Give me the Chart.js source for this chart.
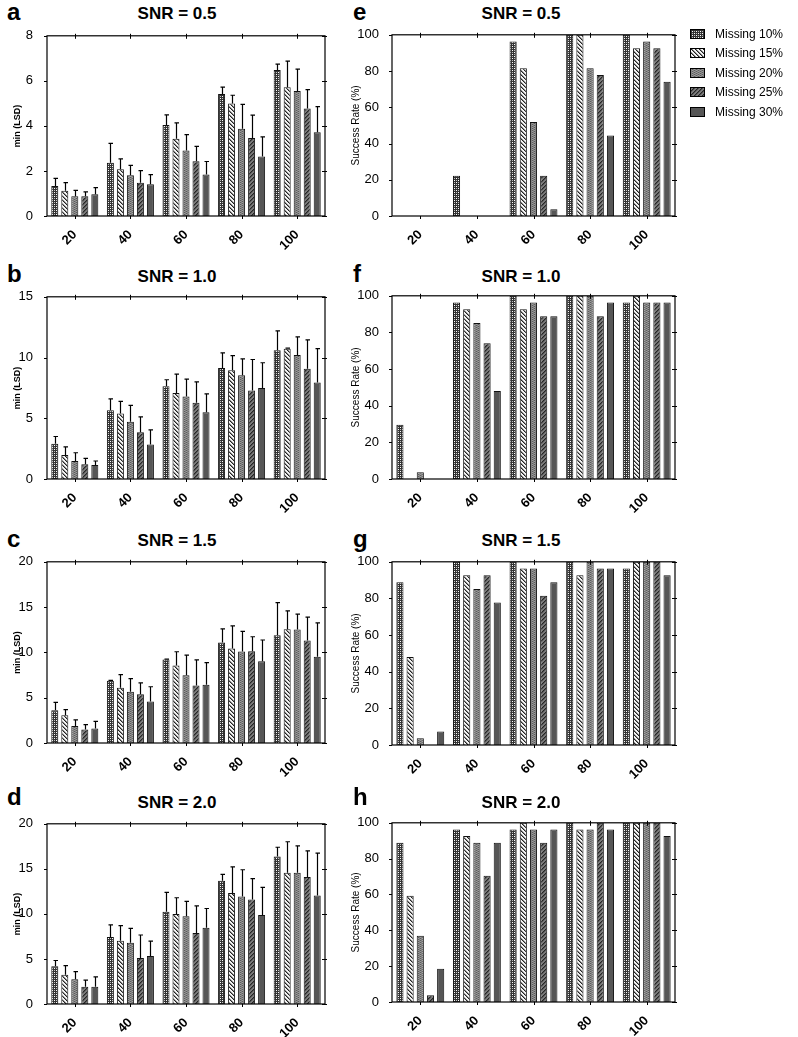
<!DOCTYPE html>
<html>
<head>
<meta charset="utf-8">
<script src="https://cdn.jsdelivr.net/npm/chart.js@4.4.1/dist/chart.umd.min.js"></script>
<style>
body { margin: 0; background: #fff; overflow: hidden; }
#page { position: relative; width: 798px; height: 1037px; overflow: hidden; font-family: "Liberation Sans", Arial, sans-serif; color: #000; }
#page > canvas { position: absolute; }
.letter { position: absolute; font-weight: bold; font-size: 24px; line-height: 24px; }
.title { position: absolute; width: 200px; text-align: center; font-weight: bold; font-size: 17px; line-height: 17px; }
#legend { position: absolute; left: 690px; top: 24px; font-size: 12px; }
#legend div { height: 19.5px; display: flex; align-items: center; }
#legend canvas { margin-right: 10px; }
</style>
</head>
<body>
<div id="page"><div id="legend"></div></div>
<script>
//////////////////////////////////////////////// Data
const categories = ['20', '40', '60', '80', '100'];
const seriesNames = ['Missing 10%', 'Missing 15%', 'Missing 20%', 'Missing 25%', 'Missing 30%'];

// min(LSD) means, one row per missing level
const lsdSnr05 = [
    [1.33, 2.36, 4.04, 5.42, 6.48],
    [1.12, 2.07, 3.43, 5.00, 5.72],
    [0.88, 1.81, 2.91, 3.87, 5.55],
    [0.88, 1.48, 2.43, 3.46, 4.77],
    [0.97, 1.41, 1.84, 2.64, 3.72]
];
const sdSnr05 = [
    [0.34, 0.86, 0.45, 0.30, 0.26],
    [0.36, 0.47, 0.70, 0.36, 1.16],
    [0.26, 0.44, 0.70, 1.09, 0.97],
    [0.19, 0.53, 0.66, 1.02, 0.84],
    [0.29, 0.43, 0.58, 0.87, 1.14]
];
const lsdSnr10 = [
    [2.91, 5.66, 7.63, 9.14, 10.60],
    [1.97, 5.39, 7.09, 8.95, 10.73],
    [1.48, 4.72, 6.79, 8.54, 10.20],
    [1.21, 3.85, 6.28, 7.28, 9.08],
    [1.16, 2.83, 5.50, 7.49, 7.95]
];
const sdSnr10 = [
    [0.59, 0.94, 0.54, 1.24, 1.60],
    [0.67, 1.00, 1.54, 1.21, 0.05],
    [0.68, 1.34, 1.43, 1.35, 1.50],
    [0.49, 1.27, 1.72, 2.56, 2.37],
    [0.32, 1.21, 1.50, 2.08, 2.78]
];
const lsdSnr15 = [
    [3.61, 6.86, 9.21, 11.08, 11.88],
    [3.07, 6.10, 8.56, 10.43, 12.56],
    [1.88, 5.67, 7.47, 10.10, 12.53],
    [1.48, 5.38, 6.35, 10.14, 11.30],
    [1.59, 4.58, 6.43, 9.03, 9.53]
];
const sdSnr15 = [
    [0.87, 0.05, 0.05, 1.52, 3.61],
    [0.61, 1.45, 1.51, 2.49, 2.02],
    [0.68, 1.44, 2.24, 2.21, 1.69],
    [0.54, 1.26, 2.82, 1.59, 2.60],
    [0.79, 1.63, 2.45, 2.34, 3.72]
];
const lsdSnr20 = [
    [4.20, 7.44, 10.24, 13.67, 16.38],
    [3.25, 7.02, 9.98, 12.33, 14.57],
    [2.75, 6.80, 9.73, 11.93, 14.57],
    [1.92, 5.10, 7.88, 11.61, 14.10],
    [1.92, 5.32, 8.46, 9.87, 12.04]
];
const sdSnr20 = [
    [0.63, 1.35, 2.16, 0.72, 1.02],
    [1.02, 1.68, 1.81, 2.90, 3.44],
    [0.85, 1.59, 1.66, 2.97, 2.97],
    [0.72, 2.56, 3.01, 2.31, 2.90],
    [1.08, 1.66, 2.14, 3.08, 4.70]
];

// success rate (%)
const rateSnr05 = [
    [0, 22.2, 96.3, 100, 100],
    [0, 0, 81.5, 100, 92.6],
    [0, 0, 51.9, 81.5, 96.3],
    [0, 0, 22.2, 77.8, 92.6],
    [0, 0, 3.7, 44.4, 74.1]
];
const rateSnr10 = [
    [29.6, 96.3, 100, 100, 96.3],
    [0, 92.6, 92.6, 100, 100],
    [3.7, 85.2, 96.3, 100, 96.3],
    [0, 74.1, 88.9, 88.9, 96.3],
    [0, 48.1, 88.9, 96.3, 96.3]
];
const rateSnr15 = [
    [88.9, 100, 100, 100, 96.3],
    [48.1, 92.6, 96.3, 92.6, 100],
    [3.7, 85.2, 96.3, 100, 100],
    [0, 92.6, 81.5, 96.3, 100],
    [7.4, 77.8, 88.9, 96.3, 92.6]
];
const rateSnr20 = [
    [88.9, 96.3, 96.3, 100, 100],
    [59.3, 92.6, 100, 96.3, 100],
    [37.0, 88.9, 96.3, 96.3, 100],
    [3.7, 70.4, 88.9, 100, 100],
    [18.5, 88.9, 96.3, 96.3, 92.6]
];

//////////////////////////////////////////////// Patterns
function tile(bg, dots) {
    const c = document.createElement('canvas');
    c.width = 4; c.height = 4;
    const g = c.getContext('2d');
    g.fillStyle = bg;
    g.fillRect(0, 0, 4, 4);
    for (let x = 0; x < 4; x++) {
        for (let y = 0; y < 4; y++) {
            const col = dots(x, y);
            if (col) { g.fillStyle = col; g.fillRect(x, y, 1, 1); }
        }
    }
    return g.createPattern(c, 'repeat');
}

const patterns = [
    tile('#333333', (x, y) => (x % 2 === 0 && y % 2 === 0) ? ((x + y) % 4 === 0 ? '#ffffff' : '#bdbdbd') : null),
    tile('#f4f4f4', (x, y) => { const d = ((x - y) % 4 + 4) % 4; return d === 0 ? '#222' : d === 1 ? '#8a8a8a' : null; }),
    tile('#828282', (x, y) => ((x + 2 * y) % 4 === 0) ? '#5c5c5c' : ((x + 2 * y) % 4 === 2 ? '#9c9c9c' : null)),
    tile('#7a7a7a', (x, y) => { const d = (x + y) % 4; return d === 0 ? '#262626' : d === 1 ? '#505050' : null; }),
    '#565656'
];

//////////////////////////////////////////////// Plugins
const framePlugin = {
    id: 'frame',
    afterDatasetsDraw(chart) {
        const { ctx, chartArea: a, scales: { x, y } } = chart;
        ctx.save();
        ctx.strokeStyle = '#000';
        ctx.lineWidth = 1.2;
        ctx.strokeRect(a.left, a.top, a.width, a.height);
        ctx.lineWidth = 1;
        ctx.beginPath();
        categories.forEach((c, i) => {
            const px = Math.round(x.getPixelForTick(i)) + 0.5;
            ctx.moveTo(px, a.top - 2); ctx.lineTo(px, a.top + 3);
            ctx.moveTo(px, a.bottom); ctx.lineTo(px, a.bottom + 3);
        });
        y.ticks.forEach((t, i) => {
            const py = Math.round(y.getPixelForTick(i)) + 0.5;
            ctx.moveTo(a.right - 3, py); ctx.lineTo(a.right + 2, py);
            ctx.moveTo(a.left - 3, py); ctx.lineTo(a.left, py);
        });
        ctx.stroke();
        ctx.restore();
    }
};

const errorBarPlugin = {
    id: 'errorBars',
    afterDatasetsDraw(chart) {
        const ctx = chart.ctx, y = chart.scales.y;
        ctx.save();
        ctx.strokeStyle = '#000';
        ctx.lineWidth = 1.2;
        chart.data.datasets.forEach((ds, i) => {
            if (!ds.sd) return;
            chart.getDatasetMeta(i).data.forEach((bar, j) => {
                const top = y.getPixelForValue(ds.data[j] + ds.sd[j]);
                const x = Math.round(bar.x) + 0.5;
                ctx.beginPath();
                ctx.moveTo(x, bar.y);
                ctx.lineTo(x, top);
                ctx.moveTo(x - 2, top);
                ctx.lineTo(x + 2.5, top);
                ctx.stroke();
            });
        });
        ctx.restore();
    }
};

//////////////////////////////////////////////// Panels
Chart.defaults.font.family = '"Liberation Sans", Arial, sans-serif';
Chart.defaults.color = '#000';

const panels = [
    { letter: 'a', title: 'SNR = 0.5', values: lsdSnr05, sd: sdSnr05, yMax: 8, yStep: 2, side: 'left', plotTop: 32, plotH: 184, titleTop: 5, letterTop: 0 },
    { letter: 'b', title: 'SNR = 1.0', values: lsdSnr10, sd: sdSnr10, yMax: 15, yStep: 5, side: 'left', plotTop: 293, plotH: 186, titleTop: 268, letterTop: 262 },
    { letter: 'c', title: 'SNR = 1.5', values: lsdSnr15, sd: sdSnr15, yMax: 20, yStep: 5, side: 'left', plotTop: 558, plotH: 185, titleTop: 532, letterTop: 527 },
    { letter: 'd', title: 'SNR = 2.0', values: lsdSnr20, sd: sdSnr20, yMax: 20, yStep: 5, side: 'left', plotTop: 820, plotH: 184, titleTop: 794, letterTop: 785 },
    { letter: 'e', title: 'SNR = 0.5', values: rateSnr05, sd: null, yMax: 100, yStep: 20, side: 'right', plotTop: 32, plotH: 184, titleTop: 5, letterTop: 0 },
    { letter: 'f', title: 'SNR = 1.0', values: rateSnr10, sd: null, yMax: 100, yStep: 20, side: 'right', plotTop: 293, plotH: 186, titleTop: 268, letterTop: 262 },
    { letter: 'g', title: 'SNR = 1.5', values: rateSnr15, sd: null, yMax: 100, yStep: 20, side: 'right', plotTop: 559, plotH: 186, titleTop: 532, letterTop: 527 },
    { letter: 'h', title: 'SNR = 2.0', values: rateSnr20, sd: null, yMax: 100, yStep: 20, side: 'right', plotTop: 820, plotH: 182, titleTop: 794, letterTop: 785 }
];

const page = document.getElementById('page');

function addText(cls, text, left, top) {
    const d = document.createElement('div');
    d.className = cls;
    d.textContent = text;
    d.style.left = left + 'px';
    d.style.top = top + 'px';
    page.appendChild(d);
}

panels.forEach(p => {
    const isLeft = p.side === 'left';
    const x0 = isLeft ? 0 : 340;
    const yw = isLeft ? 47 : 52;

    addText('letter', p.letter, isLeft ? 7 : 353, p.letterTop);
    addText('title', p.title, (isLeft ? 177 : 521) - 100, p.titleTop);

    const cv = document.createElement('canvas');
    cv.width = isLeft ? 335 : 345;
    cv.height = 10 + p.plotH + 40;
    cv.style.left = x0 + 'px';
    cv.style.top = (p.plotTop - 10) + 'px';
    page.appendChild(cv);

    new Chart(cv, {
        type: 'bar',
        data: {
            labels: categories,
            datasets: p.values.map((v, i) => ({
                label: seriesNames[i],
                data: v,
                sd: p.sd ? p.sd[i] : null,
                backgroundColor: patterns[i],
                borderColor: '#111',
                borderWidth: 1,
                categoryPercentage: 0.9,
                barPercentage: 0.7
            }))
        },
        options: {
            responsive: false,
            animation: false,
            devicePixelRatio: 1,
            layout: { padding: { top: 10, right: 10, left: 0, bottom: 0 } },
            plugins: { legend: { display: false }, tooltip: { enabled: false } },
            scales: {
                x: {
                    grid: { display: false },
                    border: { display: false },
                    ticks: { minRotation: 45, maxRotation: 45, padding: 3, font: { size: 13, weight: 'bold' } },
                    afterFit: s => { s.height = 40; }
                },
                y: {
                    min: 0,
                    max: p.yMax,
                    grid: { display: false },
                    border: { display: false },
                    ticks: { stepSize: p.yStep, padding: isLeft ? 6 : 5, font: { size: 13 } },
                    title: {
                        display: true,
                        text: isLeft ? 'min (LSD)' : 'Success Rate (%)',
                        font: isLeft ? { size: 9, weight: 'bold' } : { size: 10 },
                        padding: { top: isLeft ? 12 : 10, bottom: 0 }
                    },
                    afterFit: s => { s.width = yw; }
                }
            }
        },
        plugins: [framePlugin, errorBarPlugin]
    });
});

//////////////////////////////////////////////// Legend
const legend = document.getElementById('legend');
seriesNames.forEach((name, i) => {
    const row = document.createElement('div');
    const sw = document.createElement('canvas');
    sw.width = 15; sw.height = 10;
    const g = sw.getContext('2d');
    g.fillStyle = patterns[i];
    g.fillRect(0, 0, 15, 10);
    g.strokeStyle = '#000';
    g.strokeRect(0.5, 0.5, 14, 9);
    row.appendChild(sw);
    row.appendChild(document.createTextNode(name));
    legend.appendChild(row);
});
</script>
</body>
</html>
